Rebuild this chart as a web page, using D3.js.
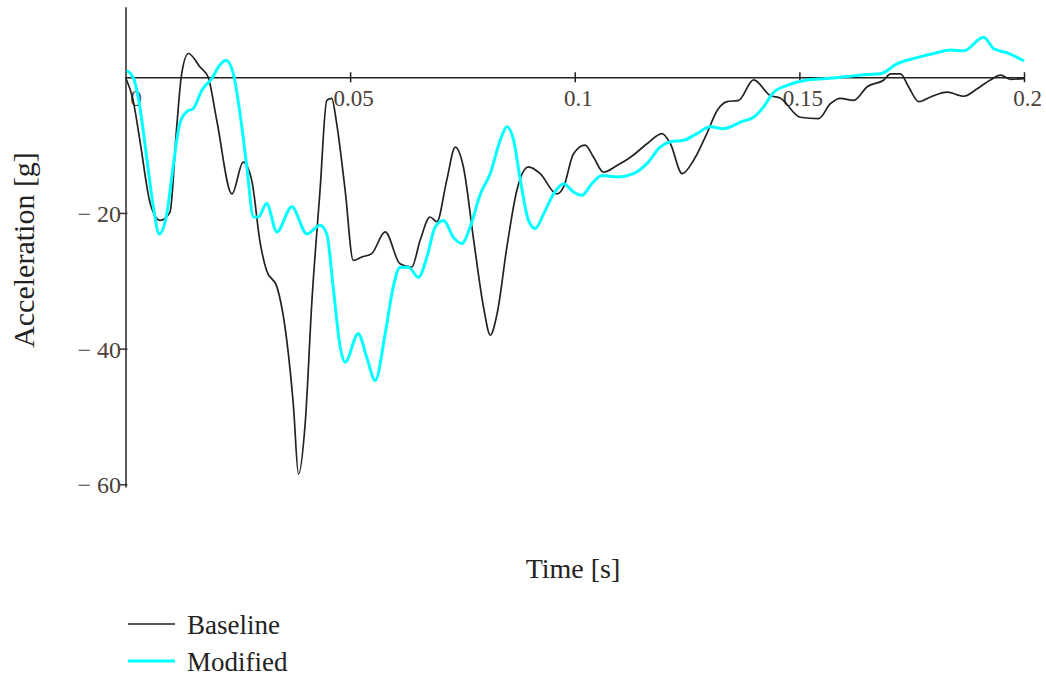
<!DOCTYPE html>
<html>
<head>
<meta charset="utf-8">
<script src="https://cdn.jsdelivr.net/npm/d3@7"></script>
<style>
  body { margin: 0; background: #fff; }
  svg text { font-family: "Liberation Serif", "Times New Roman", serif; }
</style>
</head>
<body>
<div id="chart"></div>
<script>
// Time values [s] and accelerations [g]
const baseT = [0, 0.0017, 0.0032, 0.0055, 0.0077, 0.0099, 0.0114, 0.0125, 0.0140, 0.0166,
  0.0184, 0.0203, 0.0237, 0.0262, 0.0281, 0.0300, 0.0314, 0.0337, 0.0359, 0.0374,
  0.0385, 0.0400, 0.0415, 0.0433, 0.0448, 0.0459, 0.0470, 0.0489, 0.0507, 0.0526,
  0.0548, 0.0578, 0.0611, 0.0637, 0.0656, 0.0678, 0.0693, 0.0715, 0.0734, 0.0752,
  0.0775, 0.0797, 0.0812, 0.0827, 0.0849, 0.0871, 0.0897, 0.0923, 0.0960, 0.0975,
  0.0997, 0.1023, 0.1042, 0.1064, 0.1094, 0.1124, 0.1161, 0.1194, 0.1213, 0.1239,
  0.1265, 0.1294, 0.1317, 0.1339, 0.1365, 0.1398, 0.1435, 0.1458, 0.1502, 0.1543,
  0.1569, 0.1591, 0.1621, 0.1651, 0.1688, 0.1703, 0.1725, 0.1743, 0.1766, 0.1792,
  0.1829, 0.1866, 0.1896, 0.1925, 0.1948, 0.1970, 0.2000];
const baseline = [0, -3.4, -9.3, -18.6, -21.1, -19.9, -7.3, 0.5, 3.5, 1.5,
  0, -6.3, -17.2, -12.5, -15.2, -24.5, -28.5, -30.9, -38.8, -48.6,
  -58.5, -51, -32.9, -16.7, -3.4, -3.1, -6.8, -16.7, -27, -26.5,
  -26, -22.8, -27.5, -28, -24, -20.6, -21.3, -15.2, -10.3, -13.2,
  -24, -33.9, -38, -34.9, -25, -16.7, -13.2, -14.2, -17.2, -16.2,
  -11.3, -10, -11.8, -14, -13, -11.8, -9.8, -8.3, -9.8, -14.2,
  -12.2, -8.3, -4.9, -3.6, -3.4, -0.4, -2.7, -3.1, -5.9, -6.1,
  -3.9, -3.1, -3.4, -1.4, -0.4, 0.5, 0.5, -1.4, -3.6, -2.9,
  -2.2, -2.8, -1.7, -0.4, 0.3, -0.3, -0.2];

const modT = [0.0003, 0.0017, 0.0032, 0.0047, 0.0062, 0.0075, 0.0092, 0.0106, 0.0121, 0.0136,
  0.0151, 0.0170, 0.0192, 0.0210, 0.0224, 0.0240, 0.0255, 0.0270, 0.0285, 0.0296,
  0.0314, 0.0337, 0.0370, 0.0404, 0.0433, 0.0448, 0.0463, 0.0478, 0.0489, 0.0518,
  0.0537, 0.0556, 0.0578, 0.0596, 0.0611, 0.0630, 0.0652, 0.0671, 0.0689, 0.0708,
  0.0730, 0.0749, 0.0767, 0.0790, 0.0812, 0.0834, 0.0849, 0.0864, 0.0879, 0.0897,
  0.0912, 0.0931, 0.0953, 0.0975, 0.0997, 0.1016, 0.1038, 0.1061, 0.1094, 0.1131,
  0.1161, 0.1190, 0.1213, 0.1242, 0.1272, 0.1302, 0.1331, 0.1354, 0.1369, 0.1398,
  0.1420, 0.1443, 0.1473, 0.1517, 0.1562, 0.1606, 0.1651, 0.1680, 0.1718, 0.1762,
  0.1799, 0.1836, 0.1866, 0.1910, 0.1933, 0.1963, 0.2000];
const modified = [1, 0, -4.4, -11.8, -19.1, -23.1, -20.1, -13.2, -6.8, -5.1,
  -4.6, -1.9, -0.2, 1.8, 2.5, 0.5, -5.4, -13.2, -20.6, -20.6,
  -18.6, -22.8, -19.1, -23.1, -21.8, -23.1, -31.4, -39.8, -42, -37.8,
  -41.3, -44.7, -37.8, -30.9, -28, -28, -29.5, -26.5, -22.1, -21.1,
  -23.6, -24.5, -22.1, -17.2, -14.2, -9.3, -7.3, -9.3, -15.2, -21.1,
  -22.3, -20.1, -17.2, -15.7, -16.9, -17.4, -15.7, -14.5, -14.7, -14.2,
  -12.7, -10.3, -9.5, -9.3, -8.3, -7.3, -7.6, -7.1, -6.6, -5.9,
  -4.4, -2.2, -1.2, -0.4, -0.2, 0.1, 0.4, 0.5, 2, 2.9,
  3.5, 4, 3.9, 5.9, 4.2, 3.6, 2.4];

const xTicks = [0, 0.05, 0.1, 0.15, 0.2];
const yTicks = [-20, -40, -60];
const seriesNames = ['Baseline', 'Modified'];
const seriesColors = ['#222', '#00ffff'];

const width = 1046, height = 676;

const svg = d3.select('#chart')
  .append('svg')
  .attr('width', width)
  .attr('height', height);

const x = d3.scaleLinear().domain([0, 0.2]).range([125.5, 1024]);
const y = d3.scaleLinear().domain([-60.4, 10.4]).range([487, 6.7]);

// Y axis
const yAxis = svg.append('g')
  .attr('transform', `translate(${x(0)}, 0)`)
  .call(d3.axisLeft(y).tickValues(yTicks).tickSize(0).tickPadding(4.5)
    .tickFormat(d => '\u2212 ' + Math.abs(d)));
yAxis.select('.domain').attr('stroke', '#333').attr('stroke-width', 1.6);
yAxis.selectAll('.tick line').attr('x1', -6).attr('x2', 2).attr('stroke', '#333').attr('stroke-width', 1.5);
yAxis.selectAll('.tick text')
  .attr('font-size', 24).attr('fill', '#4a4038').attr('dy', '0.36em');

// X axis through y = 0
const xAxis = svg.append('g')
  .attr('transform', `translate(0, ${y(0)})`)
  .call(d3.axisBottom(x).tickValues(xTicks).tickSize(0)
    .tickFormat(d => String(+d.toFixed(2))));
xAxis.select('.domain').attr('stroke', '#222').attr('stroke-width', 1.6);
xAxis.selectAll('.tick')
  .filter(d => d > 0)
  .select('line').attr('y1', -5).attr('y2', 5).attr('stroke', '#222').attr('stroke-width', 1.5);
xAxis.selectAll('.tick text')
  .attr('font-size', 23).attr('fill', '#4a4038')
  .attr('y', 29).attr('dy', 0).attr('dx', d => d === 0 ? 10 : 3);

// Traces
const line = d3.line()
  .x(d => x(d[0]))
  .y(d => y(d[1]))
  .curve(d3.curveMonotoneX);

svg.append('path')
  .datum(d3.zip(baseT, baseline))
  .attr('fill', 'none')
  .attr('stroke', seriesColors[0])
  .attr('stroke-width', 1.7)
  .attr('d', line);

svg.append('path')
  .datum(d3.zip(modT, modified))
  .attr('fill', 'none')
  .attr('stroke', seriesColors[1])
  .attr('stroke-width', 3)
  .attr('d', line);

// Axis titles
svg.append('text')
  .attr('transform', 'translate(34, 250) rotate(-90)')
  .attr('text-anchor', 'middle')
  .attr('font-size', 30)
  .attr('fill', '#222')
  .text('Acceleration [g]');

svg.append('text')
  .attr('x', 573)
  .attr('y', 578)
  .attr('text-anchor', 'middle')
  .attr('font-size', 28)
  .attr('fill', '#222')
  .text('Time [s]');

// Legend
const legend = svg.append('g');
seriesNames.forEach((name, i) => {
  const ly = 624 + i * 37;
  legend.append('line')
    .attr('x1', 128).attr('x2', 175)
    .attr('y1', ly).attr('y2', ly)
    .attr('stroke', seriesColors[i])
    .attr('stroke-width', i === 0 ? 1.7 : 3);
  legend.append('text')
    .attr('x', 187)
    .attr('y', ly + 10)
    .attr('font-size', 27)
    .attr('fill', '#222')
    .text(name);
});
</script>
</body>
</html>
